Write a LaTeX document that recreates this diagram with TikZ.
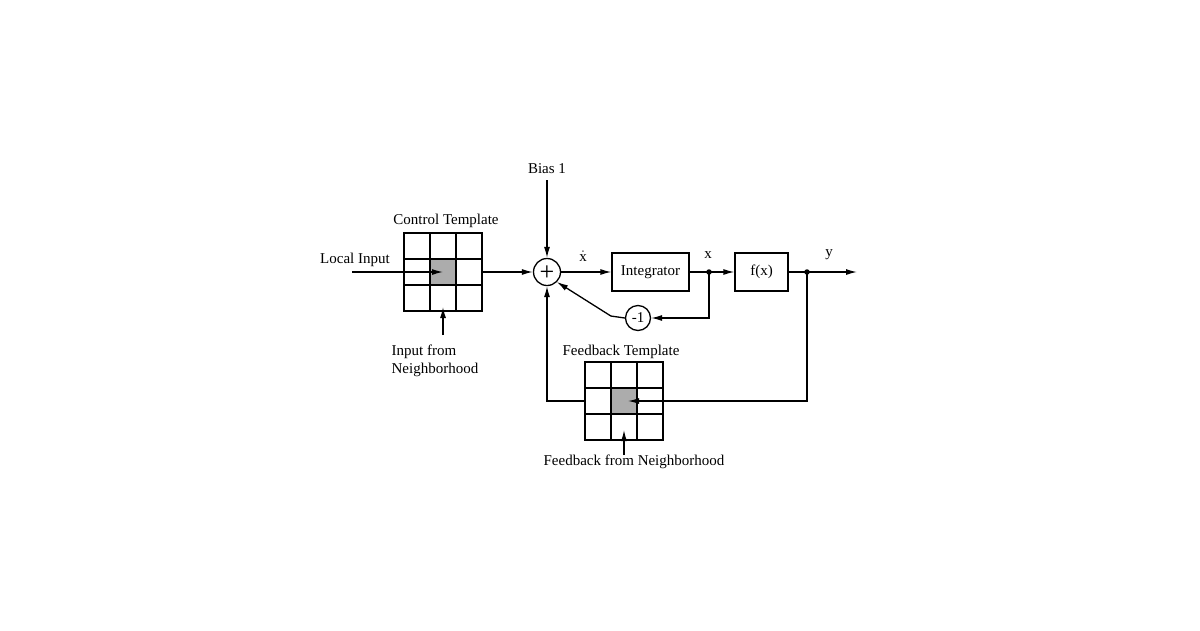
\documentclass[tikz,border=0pt]{standalone}
\usepackage{fontspec}
\setmainfont{Liberation Serif}
\usetikzlibrary{arrows.meta,calc}
\begin{document}
\begin{tikzpicture}[x=1pt,y=-1pt,
  line width=1.3pt,
  every node/.style={font=\fontsize{15}{18}\selectfont},
  arr/.style={-{Latex[length=11pt,width=6pt]}},
  blk/.style={draw,rectangle,inner sep=0pt},
  circ/.style={draw,circle,inner sep=0pt},
  gridbox/.style={draw,rectangle,minimum size=78pt,inner sep=0pt,outer sep=0pt},
  midcell/.style={rectangle,fill=gray!65,minimum size=26pt,inner sep=0pt,outer sep=0pt},
  dot/.style={circle,fill,inner sep=0pt,minimum size=5.5pt},
  lbl/.style={inner sep=0pt}]
\useasboundingbox (0,0) rectangle (1200,630);
\fill[white] (0,0) rectangle (1200,630);

% control template
\node[midcell] (ctc) at (443,272) {};
\node[gridbox] (ct) at (443,272) {};
\draw (ct.north west) ++(26,0) -- ++(0,78) ++(26,0) -- ++(0,-78);
\draw (ct.north west) ++(0,26) -- ++(78,0) ++(0,26) -- ++(-78,0);
\node[lbl] (ctl) at (446,221) {Control Template};
\node[lbl] (lil) at (355,260) {Local Input};
\node[lbl,align=left,anchor=west] (inl) at (391,361) {Input from\\Neighborhood};
\coordinate (liS) at (352,272);
\coordinate (inS) at (443,335);

% feedback template
\node[midcell] (ftc) at (624,401) {};
\node[gridbox] (ft) at (624,401) {};
\draw (ft.north west) ++(26,0) -- ++(0,78) ++(26,0) -- ++(0,-78);
\draw (ft.north west) ++(0,26) -- ++(78,0) ++(0,26) -- ++(-78,0);
\node[lbl] (ftl) at (621,352) {Feedback Template};
\node[lbl] (fnl) at (634,462) {Feedback from Neighborhood};
\coordinate (fnS) at (624,455);

% main chain
\node[circ,minimum size=27pt] (sum) at (547,272) {};
\node[lbl,font=\fontsize{26}{26}\selectfont] (plus) at (547,273) {+};
\node[blk,minimum width=77pt,minimum height=38pt] (int) at (650.5,272) {Integrator};
\node[blk,minimum width=53pt,minimum height=38pt] (f) at (761.5,272) {f(x)};
\node[circ,minimum size=25pt] (m1) at (638,318) {-1};
\node[dot] (jx) at (709,272) {};
\node[dot] (jy) at (807,272) {};
\coordinate (out) at (857,272);
\node[lbl] (bias) at (547,169) {Bias 1};
\coordinate (biasS) at (547,180);
\node[lbl] (xd) at (583,256) {$\dot{\mathrm{x}}$};
\node[lbl] (xl) at (708,255) {x};
\node[lbl] (yl) at (829,255) {y};

% connectors
\draw[arr] (liS) -- (ctc.center);
\draw[arr] (inS) -- ([yshift=4pt]ct.south);
\draw[arr] (ct.east) -- (sum.west);
\draw[arr] (biasS) -- (sum.north);
\draw[arr] (sum.east) -- (int.west);
\draw[arr] (int.east) -- (jx.center) -- (f.west);
\draw[arr] (f.east) -- (jy.center) -- (out);
\draw[arr] (jx.center) |- (m1.east);
\draw[arr] (m1.west) -- ++(-14,-2) -- (sum.south east);
\draw[arr] (jy.center) |- ([xshift=4pt]ftc.center);
\draw[arr] (ft.west) -| (sum.south);
\draw[arr] (fnS) -- ([yshift=10pt]ft.south);
\end{tikzpicture}
\end{document}
